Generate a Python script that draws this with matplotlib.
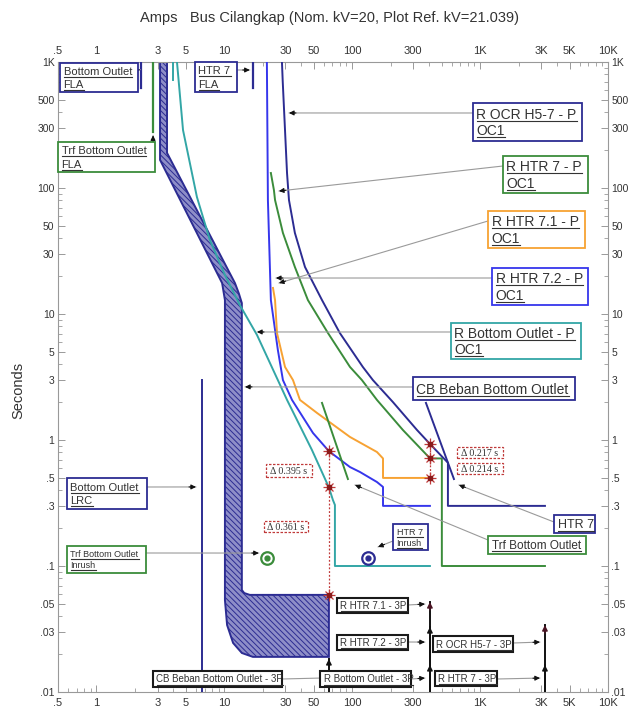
import numpy as np
import matplotlib
matplotlib.use("Agg")
import matplotlib.pyplot as plt
from matplotlib.patches import Polygon, Rectangle
from matplotlib.lines import Line2D
from matplotlib.ticker import FixedLocator, FixedFormatter, NullFormatter

plt.rcParams["font.family"] = ["Liberation Sans", "DejaVu Sans"]
plt.rcParams["hatch.linewidth"] = 0.7

W, H, DPI = 629, 709, 100

NAVY = "#2c2c92"
BLUE = "#3636ec"
TEAL = "#33a6a6"
GREEN = "#3b8c3b"
ORANGE = "#f7a233"
RED = "#c03a3a"
GREY = "#9a9a9a"
INK = "#333333"

# ---------------- curve data (amps, seconds) ----------------
# CB Beban Bottom Outlet: total clearing (upper) and minimum melting (lower) edges
cb_upper_amps = [3.56, 3.56, 12.1, 13.0, 13.7, 13.7, 14.3, 15.8, 65.7]
cb_upper_secs = [1000, 190, 17.6, 14.5, 12.2, 0.0645, 0.061, 0.059, 0.059]
cb_lower_amps = [3.14, 3.14, 9.6, 10.1, 10.1, 10.5, 11.7, 13.7, 16.7, 65.7]
cb_lower_secs = [1000, 167, 17.6, 12.9, 0.0537, 0.034, 0.0245, 0.0204, 0.019, 0.019]

# R Bottom Outlet - P OC1
teal_amps = [4.26, 4.75, 6.1, 7.7, 10.1, 13.2, 18.0, 30.9, 48.4, 65.7, 70.6, 73.2, 73.2, 405]
teal_secs = [1000, 288, 84.8, 38.7, 20.4, 11.8, 6.81, 2.08, 0.833, 0.42, 0.334, 0.305, 0.1, 0.1]

# R HTR 7.2 - P OC1
blue_amps = [21.5, 21.9, 23.1, 26.2, 28.7, 33.8, 49.3, 65.7, 96, 115, 156, 174, 174, 405]
blue_secs = [1000, 80.3, 12.9, 5.18, 2.99, 2.08, 1.137, 0.815, 0.61, 0.557, 0.464, 0.424, 0.3, 0.3]

# R HTR 7.1 - P OC1
orange_amps = [24.0, 24.9, 25.8, 29.8, 34.4, 39, 53, 96, 156, 174, 174, 405]
orange_secs = [16.1, 12.9, 7.06, 3.8, 2.99, 2.08, 1.64, 1.057, 0.803, 0.714, 0.5, 0.5]

# R HTR 7 - P OC1
green_amps = [23.1, 24.4, 24.9, 28.7, 35.6, 45, 64.6, 96, 119, 156, 174, 249, 370, 405, 502, 502, 3213]
green_secs = [131.5, 96.4, 80.3, 44, 23.6, 12.9, 7.06, 3.8, 2.99, 2.08, 1.83, 1.2, 0.788, 0.714, 0.714, 0.1, 0.1]

# R OCR H5-7 - P OC1
navy_amps = [28.2, 28.6, 30.9, 32, 35.6, 42.7, 58, 80, 121, 145, 208, 321, 405, 560, 560, 3213]
navy_secs = [1000, 700, 131.5, 80.3, 44, 23.6, 12.9, 7.06, 3.8, 2.99, 2.0, 1.2, 0.931, 0.66, 0.3, 0.3]

# transformer / heater damage segments
damage_secs = [1.97, 0.49]
trf_damage_amps = [58, 92.5]
htr_damage_amps = [377, 624]

# full-load / locked-rotor lines: (amps, top secs, bottom secs)
bottom_fla = (2.23, 1000, 622)
trf_fla = (2.77, 1000, 278)
teal_start = (3.96, 1000, 720)
htr_fla = (16.7, 1000, 622)
bottom_lrc = (6.68, 3.0, 0.01)

# inrush points
trf_inrush = (21.5, 0.1156)
htr_inrush = (132.7, 0.1156)

# three-phase fault arrows
fault_amps = [65.7, 405, 405, 405, 3213, 3213]
fault_tips = [0.0183, 0.0518, 0.0328, 0.0164, 0.034, 0.0164]

# coordination time intervals
cti_a_amps = 65.7
cti_a_base = 0.059
cti_a_steps = [0.361, 0.395]
cti_b_amps = 405
cti_b_base = 0.5
cti_b_steps = [0.214, 0.217]

x_ticks = [0.5, 1, 3, 5, 10, 30, 50, 100, 300, 1000, 3000, 5000, 10000]
x_labels = [".5", "1", "3", "5", "10", "30", "50", "100", "300", "1K", "3K", "5K", "10K"]
y_ticks = [1000, 500, 300, 100, 50, 30, 10, 5, 3, 1, .5, .3, .1, .05, .03, .01]
y_labels = ["1K", "500", "300", "100", "50", "30", "10", "5", "3", "1", ".5", ".3", ".1", ".05", ".03", ".01"]

# ---------------- figure ----------------
fig = plt.figure(figsize=(W / DPI, H / DPI), dpi=DPI)
ax = fig.add_axes([58 / W, (H - 692) / H, 550 / W, 630 / H])
ax.set_xscale("log")
ax.set_yscale("log")
ax.set_xlim(0.5, 10000)
ax.set_ylim(0.01, 1000)


def minor_positions(lo_exp, hi_exp, majors):
    vals = []
    for e in range(lo_exp, hi_exp):
        for m in range(1, 10):
            v = m * 10.0 ** e
            if not any(abs(v - mj) / mj < 1e-6 for mj in majors):
                vals.append(v)
    return vals


ax.xaxis.set_major_locator(FixedLocator(x_ticks))
ax.xaxis.set_major_formatter(FixedFormatter(x_labels))
ax.xaxis.set_minor_locator(FixedLocator([v for v in minor_positions(-1, 5, x_ticks) if 0.5 < v < 10000]))
ax.xaxis.set_minor_formatter(NullFormatter())
ax.yaxis.set_major_locator(FixedLocator(y_ticks))
ax.yaxis.set_major_formatter(FixedFormatter(y_labels))
ax.yaxis.set_minor_locator(FixedLocator(minor_positions(-2, 3, y_ticks)))
ax.yaxis.set_minor_formatter(NullFormatter())
ax.tick_params(which="both", direction="in", top=True, right=True, labeltop=True,
               labelright=True, color="#999999", labelsize=8, labelcolor=INK, pad=4)
ax.tick_params(axis="y", labelsize=7.5, pad=2.5)
ax.tick_params(which="major", length=5, width=0.7)
ax.tick_params(which="minor", length=3, width=0.6)
for sp in ax.spines.values():
    sp.set_color("#999999")
    sp.set_linewidth(0.8)

fig.text(330 / W, 1 - 18 / H, "Amps   Bus Cilangkap (Nom. kV=20, Plot Ref. kV=21.039)",
         ha="center", va="center", fontsize=10.5, color=INK)
fig.text(18 / W, 1 - 390 / H, "Seconds", rotation=90, ha="center", va="center",
         fontsize=10.5, color=INK)

# ---------------- curves ----------------
band = list(zip(cb_upper_amps, cb_upper_secs)) + list(zip(cb_lower_amps, cb_lower_secs))[::-1]
ax.add_patch(Polygon(band, closed=True, facecolor="#8e8ec8", edgecolor=NAVY, hatch="\\\\\\\\\\\\",
                     linewidth=1.4, zorder=2))

ax.plot(teal_amps, teal_secs, color=TEAL, lw=1.4, zorder=3)
ax.plot(blue_amps, blue_secs, color=BLUE, lw=1.4, zorder=3)
ax.plot(orange_amps, orange_secs, color=ORANGE, lw=1.4, zorder=3)
ax.plot(green_amps, green_secs, color=GREEN, lw=1.4, zorder=3)
ax.plot(navy_amps, navy_secs, color=NAVY, lw=1.4, zorder=3)
ax.plot(trf_damage_amps, damage_secs, color=GREEN, lw=1.4, zorder=3)
ax.plot(htr_damage_amps, damage_secs, color=NAVY, lw=1.4, zorder=3)

for (a, t0, t1), c, lw in [(bottom_fla, NAVY, 1.6), (trf_fla, GREEN, 1.6), (teal_start, TEAL, 1.4),
                           (htr_fla, NAVY, 1.6), (bottom_lrc, NAVY, 1.4)]:
    ax.plot([a, a], [t0, t1], color=c, lw=lw, zorder=3)

for (a, s), c in [(trf_inrush, GREEN), (htr_inrush, NAVY)]:
    ax.plot(a, s, "o", ms=9, mfc="white", mec=c, mew=1.6, zorder=4)
    ax.plot(a, s, "o", ms=3.5, color=c, zorder=4)

# fault current arrows
for a, tip in zip(fault_amps, fault_tips):
    top_head = tip == max(t for aa, t in zip(fault_amps, fault_tips) if aa == a)
    ax.plot([a, a], [0.0095, tip], color="#111111", lw=1.4, zorder=3)
    ax.annotate("", xy=(a, tip), xytext=(0, -8), textcoords="offset pixels",
                arrowprops=dict(arrowstyle="-|>", color="#4a1424" if (top_head and a > 100) else "#111111",
                                lw=1, mutation_scale=8, shrinkA=0, shrinkB=0), zorder=4)


def cti(amps, base, steps):
    levels = [base]
    for s in steps:
        levels.append(levels[-1] + s)
    ax.plot([amps, amps], [levels[0], levels[-1]], color=RED, lw=0.9, ls=(0, (1.5, 1.5)), zorder=5)
    for lv in levels:
        ax.plot(amps, lv, "+", ms=8, mew=0.9, color=RED, zorder=6)
        ax.plot(amps, lv, "x", ms=6, mew=0.9, color=RED, zorder=6)
        ax.plot(amps, lv, "s", ms=2.5, color="#8a1a1a", zorder=6)
    return levels


cti(cti_a_amps, cti_a_base, cti_a_steps)
cti(cti_b_amps, cti_b_base, cti_b_steps)


# ---------------- labels ----------------
def fx(x):
    return x / W


def fy(y):
    return 1 - y / H


renderer = fig.canvas.get_renderer()


def boxed(rect, lines, color, fs, lw=1.2, ls="-", underline=True, family=None, center=False):
    l, t, r, b = rect
    fig.add_artist(Rectangle((fx(l), fy(b)), (r - l) / W, (b - t) / H, transform=fig.transFigure,
                             fc="white", ec=color, lw=lw, ls=ls, zorder=10))
    fpx = fs * DPI / 72
    spacing = 1.22 * fpx
    n = len(lines)
    base0 = (t + b) / 2 - (n - 1) * spacing / 2 + 0.36 * fpx
    for i, s in enumerate(lines):
        yb = base0 + i * spacing
        kw = dict(fontsize=fs, color=INK, va="baseline", zorder=11)
        if family:
            kw["family"] = family
        if center:
            txt = fig.text(fx((l + r) / 2), fy(yb), s, ha="center", **kw)
        else:
            txt = fig.text(fx(l + 3.5), fy(yb), s, ha="left", **kw)
        if underline:
            ext = txt.get_window_extent(renderer)
            fig.add_artist(Line2D([ext.x0 / W, ext.x1 / W], [fy(yb + 2), fy(yb + 2)],
                                  transform=fig.transFigure, color=INK, lw=0.8, zorder=11))


def pointer(start, target, head=True):
    sx, sy = fx(start[0]), fy(start[1])
    ax.annotate("", xy=target, xycoords="data", xytext=(sx, sy), textcoords="figure fraction",
                arrowprops=dict(arrowstyle="-", color=GREY, lw=0.8, shrinkA=0, shrinkB=0), zorder=7)
    if head:
        pt = ax.transData.transform(target)
        ps = np.array([sx * W, sy * H])
        u = (pt - ps) / np.hypot(*(pt - ps))
        ax.annotate("", xy=target, xycoords="data", xytext=(-u[0] * 7, -u[1] * 7),
                    textcoords="offset pixels",
                    arrowprops=dict(arrowstyle="-|>", color="#111111", lw=0.8, mutation_scale=7,
                                    shrinkA=0, shrinkB=0), zorder=8)


# device labels: box rectangle, text, colour, size, pointer start, pointer target
tags = [
    ((60, 63, 138, 92), ["Bottom Outlet", "FLA"], NAVY, 8, (138, 70), (2.2, 870)),
    ((195, 62, 237, 92), ["HTR 7", "FLA"], NAVY, 8, (237, 70), (15.8, 864)),
    ((58, 142, 155, 172), ["Trf Bottom Outlet", "FLA"], GREEN, 8, (153, 142), (2.77, 262)),
    ((473, 103, 582, 141), ["R OCR H5-7 - P", "OC1"], NAVY, 10, (473, 113), (32, 394)),
    ((503, 156, 588, 193), ["R HTR 7 - P", "OC1"], GREEN, 10, (503, 166), (26.7, 94.6)),
    ((488, 211, 585, 248), ["R HTR 7.1 - P", "OC1"], ORANGE, 10, (488, 221), (26.7, 17.6)),
    ((492, 268, 588, 305), ["R HTR 7.2 - P", "OC1"], BLUE, 10, (492, 278), (25.3, 19.3)),
    ((451, 323, 581, 359), ["R Bottom Outlet - P", "OC1"], TEAL, 10, (451, 332), (18, 7.2)),
    ((413, 377, 575, 400), ["CB Beban Bottom Outlet"], NAVY, 10, (413, 387), (14.5, 2.64)),
    ((554, 515, 595, 533), ["HTR 7"], NAVY, 9, (554, 522), (682, 0.44)),
    ((488, 536, 586, 554), ["Trf Bottom Outlet"], GREEN, 8.5, (488, 540), (105, 0.44)),
    ((393, 524, 428, 550), ["HTR 7", "Inrush"], NAVY, 6.5, (393, 541), (159, 0.1416)),
    ((67, 478, 147, 509), ["Bottom Outlet", "LRC"], NAVY, 8, (147, 487), (6.0, 0.424)),
    ((67, 546, 146, 573), ["Trf Bottom Outlet", "Inrush"], GREEN, 6.5, (146, 553), (18.6, 0.1267)),
]
for rect, lines, col, fs, start, target in tags:
    pointer(start, target)
    boxed(rect, lines, col, fs, lw=1.3)

# fault labels
fault_tags = [
    ((337, 598, 408, 613), "R HTR 7.1 - 3P", (408, 605), (370, 0.0499), True),
    ((337, 635, 408, 650), "R HTR 7.2 - 3P", (408, 642), (370, 0.0249), True),
    ((320, 671, 411, 687), "R Bottom Outlet - 3P", (411, 679), (370, 0.0129), True),
    ((153, 671, 282, 687), "CB Beban Bottom Outlet - 3P", (282, 679), (56, 0.0129), False),
    ((433, 636, 513, 652), "R OCR H5-7 - 3P", (513, 643), (2937, 0.0249), True),
    ((435, 671, 497, 686), "R HTR 7 - 3P", (497, 679), (2937, 0.0129), True),
]
for rect, s, start, target, head in fault_tags:
    pointer(start, target, head)
    boxed(rect, [s], "#1a1a1a", 7, lw=1.5)

# coordination interval labels
serif = ["Liberation Serif", "DejaVu Serif"]
delta_tags = [
    ((266, 464, 312, 477), cti_a_steps[1]),
    ((264, 521, 308, 532), cti_a_steps[0]),
    ((457, 447, 503, 458), cti_b_steps[1]),
    ((457, 463, 503, 474), cti_b_steps[0]),
]
for rect, v in delta_tags:
    boxed(rect, ["\u0394 %.3f s" % v], RED, 7.2, lw=0.9, ls=(0, (2, 1.2)),
          underline=False, family=serif, center=True)

fig.savefig("out.png", dpi=DPI)
